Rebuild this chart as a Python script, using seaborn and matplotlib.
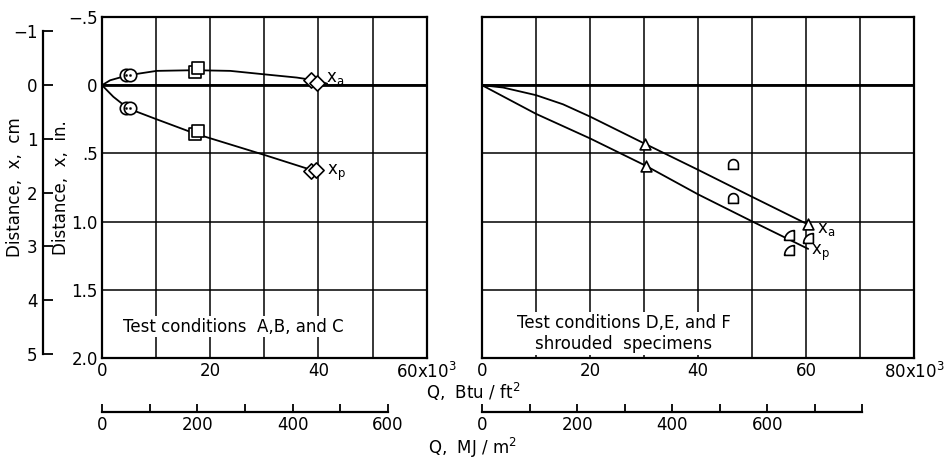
import numpy as np
import seaborn as sns
from matplotlib import pyplot as plt
from matplotlib.path import Path
from matplotlib.ticker import FixedLocator


BTU_TO_MJ = 11.3565  # 10^3 Btu/ft^2 -> MJ/m^2
IN_TO_CM = 2.54

# left panel: test conditions A, B and C (Q in 10^3 Btu/ft^2, x in inches)
abc_xa_q = [0, 1.5, 4.8, 10.1, 17.2, 23.7, 29.9, 36.0, 38.6, 41.6]
abc_xa_x = [0, -0.036, -0.073, -0.105, -0.11, -0.105, -0.08, -0.056, -0.04, -0.012]
abc_xp_q = [0, 2.1, 4.8, 10.1, 17.2, 29.9, 38.6, 40.4]
abc_xp_x = [0, 0.085, 0.17, 0.25, 0.355, 0.51, 0.62, 0.635]
abc_circle_q = [4.4, 5.2, 4.4, 5.2]
abc_circle_x = [-0.075, -0.075, 0.17, 0.17]
abc_square_q = [17.2, 17.7, 17.2, 17.7]
abc_square_x = [-0.10, -0.125, 0.36, 0.335]
abc_diamond_q = [38.6, 39.7, 38.6, 39.5]
abc_diamond_x = [-0.04, -0.015, 0.63, 0.62]

# right panel: test conditions D, E and F, shrouded specimens
def_xa_q = [0, 3.9, 10, 15, 20, 30.2, 40, 50.1, 59.8]
def_xa_x = [0, 0.017, 0.073, 0.14, 0.23, 0.43, 0.62, 0.82, 1.01]
def_xp_q = [0, 10, 20, 30.3, 40, 50.1, 60.4]
def_xp_x = [0, 0.21, 0.39, 0.59, 0.80, 1.0, 1.2]
def_triangle_q = [30.2, 30.3, 60.4]
def_triangle_x = [0.43, 0.59, 1.02]
def_arch_q = [46.5, 46.5]
def_arch_x = [0.58, 0.83]
def_quarter_q = [56.9, 56.9, 60.4]
def_quarter_x = [1.095, 1.21, 1.12]

in_ticks = [-0.5, 0, 0.5, 1.0, 1.5, 2.0]
in_labels = ["\u2212.5", "0", ".5", "1.0", "1.5", "2.0"]
cm_ticks = [-1, 0, 1, 2, 3, 4, 5]
cm_labels = ["\u22121", "0", "1", "2", "3", "4", "5"]


def arch_marker():
    t = np.linspace(0, np.pi, 20)
    verts = [(-1, -1), (1, -1)] + list(zip(np.cos(t), np.sin(t))) + [(-1, -1)]
    return Path(verts, closed=True)


def quarter_marker():
    t = np.linspace(np.pi / 2, np.pi, 16)
    verts = [(-1, -1), (1, -1), (1, 1)] + list(zip(1 + 2 * np.cos(t), -1 + 2 * np.sin(t))) + [(-1, -1)]
    return Path(verts, closed=True)


def points(ax, q, x, marker, s):
    sns.scatterplot(x=q, y=x, ax=ax, marker=marker, s=s, color="black", facecolor="white",
                    edgecolor="black", linewidth=1.2, zorder=4)


def setup_panel(ax, qmax, mj_max, mj_minor):
    ax.set_xlim(0, qmax)
    ax.set_ylim(2.0, -0.5)
    qt = list(range(0, qmax + 1, 10))
    labels = [str(v) if v % 20 == 0 else "" for v in qt]
    labels[-1] = f"{qmax}x10$^3$"
    ax.set_xticks(qt, labels)
    ax.set_yticks(in_ticks, in_labels)
    ax.grid(True, color="black", lw=1.1)
    ax.axhline(0, color="black", lw=2.0, zorder=2)
    for sp in ax.spines.values():
        sp.set_visible(True)
        sp.set_color("black")
        sp.set_linewidth(1.6)
    ax.tick_params(length=0, labelsize=12, pad=3, colors="black")
    sec = ax.secondary_xaxis(-0.158, functions=(lambda v: v * BTU_TO_MJ, lambda v: v / BTU_TO_MJ))
    sec.set_xticks([0, 200, 400, 600], ["0", "200", "400", "600"])
    sec.xaxis.set_minor_locator(FixedLocator(mj_minor))
    sec.tick_params(which="both", direction="in", length=6, width=1.3, labelsize=12, pad=3,
                    colors="black")
    sec.spines["bottom"].set_bounds(0, mj_max)
    sec.spines["bottom"].set_linewidth(1.6)
    sec.spines["bottom"].set_color("black")
    ax.set_xlabel("")
    ax.set_ylabel("")


sns.set_theme(style="white", context="paper")
plt.rcParams["font.family"] = ["DejaVu Sans"]
plt.rcParams.update({"mathtext.default": "regular", "text.color": "black",
                     "axes.labelcolor": "black", "xtick.color": "black", "ytick.color": "black"})

fig = plt.figure(figsize=(9.48, 4.59), dpi=100)
ax1 = fig.add_axes([102 / 948, 1 - 358 / 459, 324.7 / 948, 341 / 459])
ax2 = fig.add_axes([482 / 948, 1 - 358 / 459, 432 / 948, 341 / 459])

setup_panel(ax1, 60, 600, [100, 300, 500])
setup_panel(ax2, 80, 800, [100, 300, 500, 700, 800])
ax2.tick_params(labelleft=False)

# left panel curves and points
sns.lineplot(x=abc_xa_q, y=abc_xa_x, ax=ax1, color="black", lw=1.3, sort=False, estimator=None)
sns.lineplot(x=abc_xp_q, y=abc_xp_x, ax=ax1, color="black", lw=1.3, sort=False, estimator=None)
points(ax1, abc_circle_q, abc_circle_x, "o", 80)
sns.scatterplot(x=abc_circle_q, y=abc_circle_x, ax=ax1, marker="o", s=3, color="black",
                edgecolor="black", zorder=5)
points(ax1, abc_square_q, abc_square_x, "s", 70)
points(ax1, abc_diamond_q, abc_diamond_x, "D", 60)
ax1.text(41.3, -0.05, "x$_a$", fontsize=12, ha="left", va="center")
ax1.text(41.5, 0.64, "x$_p$", fontsize=12, ha="left", va="center")
ax1.text(3.9, 1.77, "Test conditions  A,B, and C", fontsize=12, ha="left", va="center",
         bbox=dict(facecolor="white", edgecolor="none", pad=1), zorder=5)

# right panel curves and points
sns.lineplot(x=def_xa_q, y=def_xa_x, ax=ax2, color="black", lw=1.3, sort=False, estimator=None)
sns.lineplot(x=def_xp_q, y=def_xp_x, ax=ax2, color="black", lw=1.3, sort=False, estimator=None)
points(ax2, def_triangle_q, def_triangle_x, "^", 60)
points(ax2, def_arch_q, def_arch_x, arch_marker(), 50)
points(ax2, def_quarter_q, def_quarter_x, quarter_marker(), 50)
ax2.text(62.0, 1.055, "x$_a$", fontsize=12, ha="left", va="center")
ax2.text(61.0, 1.23, "x$_p$", fontsize=12, ha="left", va="center")
ax2.text(26.2, 1.82, "Test conditions D,E, and F\nshrouded  specimens", fontsize=12,
         ha="center", va="center", multialignment="center", linespacing=1.25,
         bbox=dict(facecolor="white", edgecolor="none", pad=1), zorder=5)

# distance axes
ax1.set_ylabel("Distance,  x,  in.", fontsize=12)
ax1.yaxis.set_label_coords(-0.099, 0.5)
sec_cm = ax1.secondary_yaxis(-0.182, functions=(lambda v: v * IN_TO_CM, lambda v: v / IN_TO_CM))
sec_cm.set_yticks(cm_ticks, cm_labels)
sec_cm.tick_params(direction="in", length=7, width=1.3, labelsize=12, pad=4, colors="black")
sec_cm.spines["left"].set_bounds(-1, 5)
sec_cm.spines["left"].set_linewidth(1.6)
sec_cm.spines["left"].set_color("black")
fig.text(15.5 / 948, 1 - 187 / 459, "Distance,  x,  cm", rotation=90, fontsize=12,
         ha="center", va="center")

fig.text(473 / 948, 1 - 392 / 459, "Q,  Btu / ft$^2$", fontsize=12, ha="center", va="center")
fig.text(472 / 948, 1 - 448 / 459, "Q,  MJ / m$^2$", fontsize=12, ha="center", va="center")

fig.savefig("out.png", dpi=100)
